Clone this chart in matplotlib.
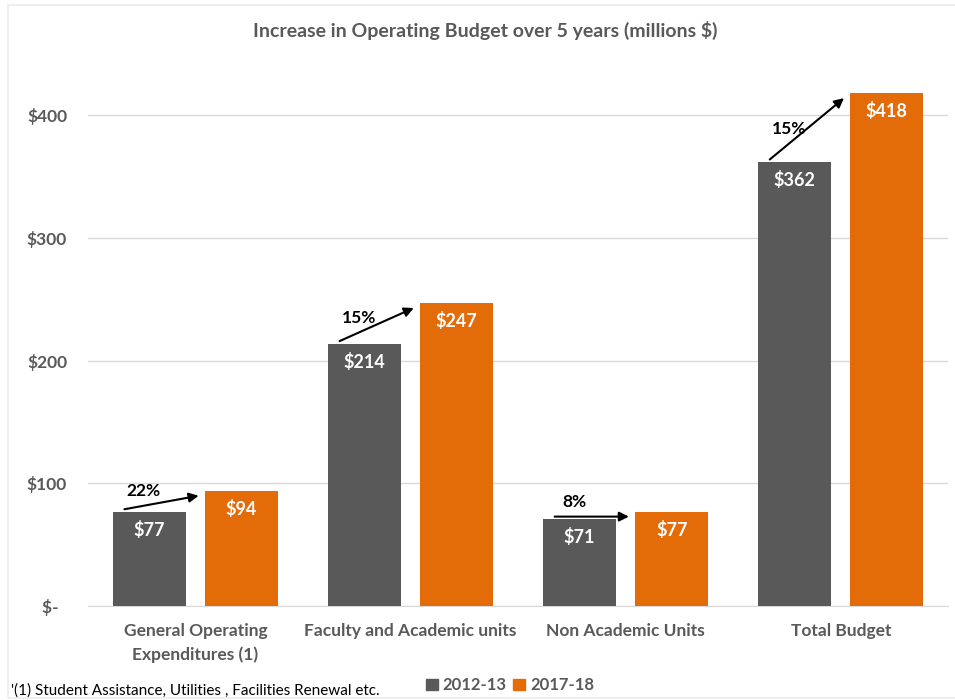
import matplotlib.pyplot as plt
import numpy as np
from matplotlib.patches import Rectangle, Patch

plt.rcParams.update({
    'font.family': ['Lato', 'DejaVu Sans'],
})

categories = ['General Operating\nExpenditures (1)', 'Faculty and Academic units',
              'Non Academic Units', 'Total Budget']
years = ['2012-13', '2017-18']
budget_2012 = [77, 214, 71, 362]
budget_2017 = [94, 247, 77, 418]
y_ticks = [0, 100, 200, 300, 400]
y_labels = ['$-  ', '$100', '$200', '$300', '$400']
footnote = "'(1) Student Assistance, Utilities , Facilities Renewal etc."
title = 'Increase in Operating Budget over 5 years (millions $)'

GRAY = '#595959'
ORANGE = '#E36C09'
TEXT = '#595959'

fig = plt.figure(figsize=(9.55, 7), dpi=100)
ax = fig.add_axes([0.092, 0.134, 0.901, 0.7714])

x = np.arange(len(categories))
w = 0.34
off = 0.214
ax.bar(x - off, budget_2012, w, color=GRAY, zorder=3)
ax.bar(x + off, budget_2017, w, color=ORANGE, zorder=3)

for i in range(len(categories)):
    for xi, v in ((x[i] - off, budget_2012[i]), (x[i] + off, budget_2017[i])):
        ax.annotate(f'${v}', (xi, v), xytext=(0, -13), textcoords='offset points',
                    ha='center', va='center', color='white', fontsize=13,
                    fontweight='bold', zorder=4)
    # growth arrow
    y0 = budget_2012[i] + 2
    y1 = budget_2017[i] - 4
    x0, x1 = x[i] - 0.33, x[i] + 0.015
    ax.annotate('', xy=(x1, y1), xytext=(x0, y0),
                arrowprops=dict(arrowstyle='-|>', color='black', lw=1.5,
                                mutation_scale=14, shrinkA=0, shrinkB=0),
                zorder=5)
    pct = round((budget_2017[i] - budget_2012[i]) / budget_2012[i] * 100)
    xl = x[i] - 0.24
    yl = y0 + (y1 - y0) * (xl - x0) / (x1 - x0)
    ax.annotate(f'{pct}%', (xl, yl), xytext=(0, 10.5), textcoords='offset points',
                ha='center', va='center', fontsize=12.5, fontweight='bold',
                color='black', zorder=5)

ax.set_xlim(-0.5, 3.5)
ax.set_ylim(0, 440)
ax.set_yticks(y_ticks)
ax.set_yticklabels(y_labels)
ax.set_xticks(x)
ax.set_xticklabels(categories, linespacing=1.55)
ax.tick_params(axis='both', length=0, labelsize=12.5, labelcolor=TEXT)
ax.tick_params(axis='y', pad=15)
ax.tick_params(axis='x', pad=12)
for lbl in ax.get_xticklabels() + ax.get_yticklabels():
    lbl.set_fontweight('bold')
ax.grid(axis='y', color='#d9d9d9', lw=1, zorder=0)
for s in ['top', 'right', 'left']:
    ax.spines[s].set_visible(False)
ax.spines['bottom'].set_color('#d9d9d9')

fig.text(0.508, 0.957, title, ha='center', va='center', fontsize=14,
         fontweight='bold', color=TEXT)
fig.text(0.011, 0.014, footnote, ha='left', va='center', fontsize=11, color='black')

handles = [Patch(color=GRAY), Patch(color=ORANGE)]
leg = fig.legend(handles, years, loc='center', bbox_to_anchor=(0.534, 0.021), ncol=2,
                 frameon=False, handlelength=0.7, handleheight=0.7, handletextpad=0.3,
                 columnspacing=0.4, prop={'size': 12, 'weight': 'bold'})
for t in leg.get_texts():
    t.set_color(TEXT)

fig.patches.append(Rectangle((0.008, 0.003), 0.995, 0.99, transform=fig.transFigure,
                             fill=False, edgecolor='#ececec', lw=1.2))

fig.savefig('out.png', dpi=100)
